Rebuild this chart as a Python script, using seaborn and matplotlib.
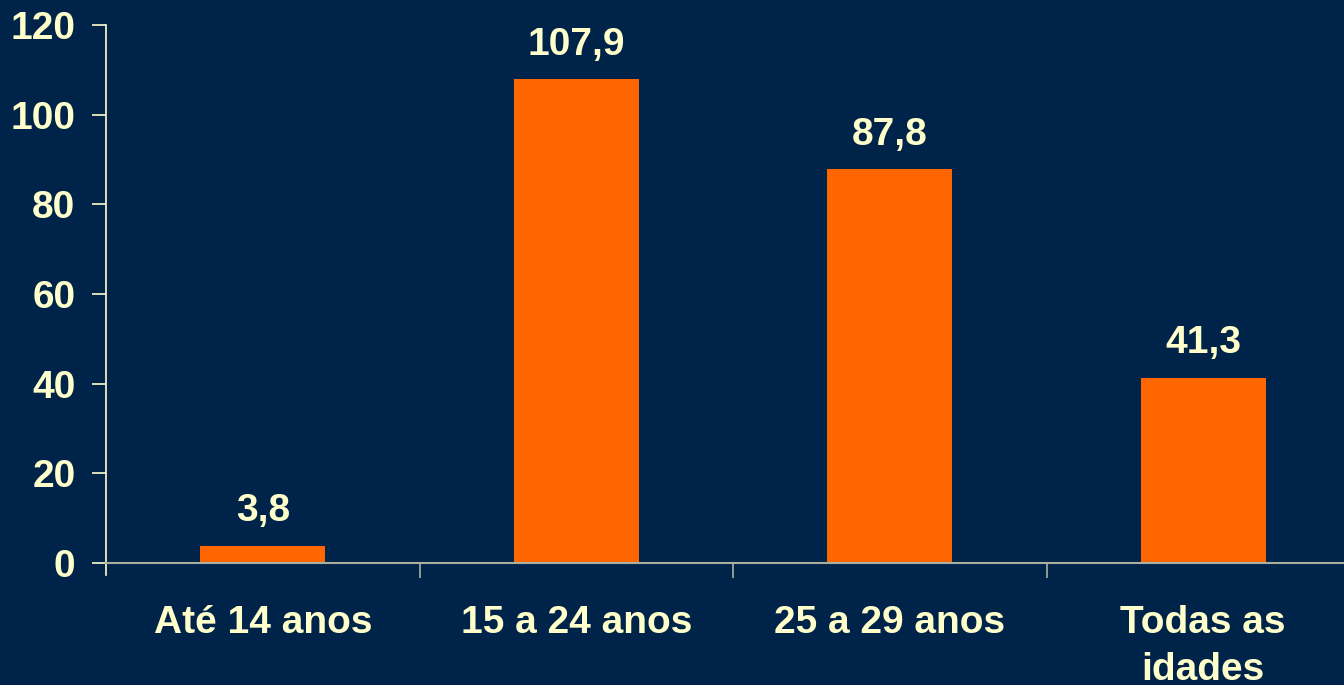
import matplotlib
matplotlib.use('Agg')
import matplotlib.pyplot as plt
import seaborn as sns
from matplotlib.ticker import FixedLocator

categories = ['Até 14 anos', '15 a 24 anos', '25 a 29 anos', 'Todas as\nidades']
values = [3.8, 107.9, 87.8, 41.3]
value_labels = ['3,8', '107,9', '87,8', '41,3']
y_ticks = [0, 20, 40, 60, 80, 100, 120]

BG = '#002349'
TXT = '#FFFFCC'
ORANGE = '#FF6600'

sns.set_style('dark')
plt.rcParams['font.family'] = ['Liberation Sans', 'DejaVu Sans']
plt.rcParams['font.weight'] = 'bold'

fig = plt.figure(figsize=(13.44, 6.85), dpi=100, facecolor=BG)
ax = fig.add_axes([0.0789, 0.178, 0.933, 0.7855])
ax.set_facecolor(BG)

sns.barplot(x=categories, y=values, color=ORANGE, width=0.4, saturation=1,
            linewidth=0, ax=ax)

ax.set_xlim(-0.5, 3.5)
ax.set_ylim(0, 120)
ax.set_yticks(y_ticks)
ax.set_yticklabels([str(t) for t in y_ticks], color=TXT, fontsize=28, fontweight='bold')
ax.tick_params(axis='y', length=10, width=1.2, color=TXT, pad=12, direction='out', left=True)

ax.set_xticks(range(len(categories)))
ax.set_xticklabels(categories, color=TXT, fontsize=28, fontweight='bold', linespacing=1.4)
ax.tick_params(axis='x', which='major', length=0, pad=30, bottom=True)
ax.xaxis.set_minor_locator(FixedLocator([0.5, 1.5, 2.5]))
ax.tick_params(axis='x', which='minor', length=11, width=1.2, color='#AAB0A0', direction='out', bottom=True)

ax.grid(False)
for s in ['top', 'right']:
    ax.spines[s].set_visible(False)
ax.spines['left'].set_color(TXT)
ax.spines['left'].set_linewidth(1.2)
ax.spines['left'].set_bounds(-2.6, 120)
ax.spines['bottom'].set_color('#AAB0A0')
ax.spines['bottom'].set_linewidth(1.5)

for i, (v, lab) in enumerate(zip(values, value_labels)):
    ax.annotate(lab, (i, v), xytext=(0, 12), textcoords='offset points',
                ha='center', va='bottom', color=TXT, fontsize=28, fontweight='bold')

ax.set_xlabel('')
ax.set_ylabel('')
fig.savefig('out.png', dpi=100, facecolor=BG)
